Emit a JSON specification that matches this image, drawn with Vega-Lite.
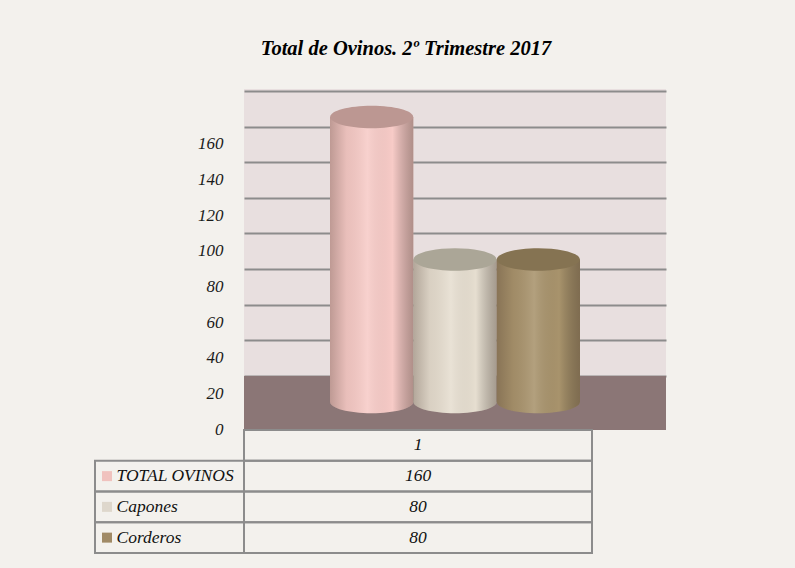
{
  "$schema": "https://vega.github.io/schema/vega-lite/v6.json",
  "background": "#F3F1ED",
  "padding": {"left": 94, "top": 38, "right": 130, "bottom": 16},
  "autosize": {"type": "pad"},
  "title": {
    "text": "Total de Ovinos. 2º Trimestre 2017",
    "font": "Liberation Serif",
    "fontSize": 20.5,
    "fontWeight": "bold",
    "fontStyle": "italic",
    "color": "#000000",
    "anchor": "middle",
    "dx": 26,
    "offset": 30
  },
  "datasets": {
    "ovinos": [
      {"categoria": "1", "serie": "TOTAL OVINOS", "valor": 160},
      {"categoria": "1", "serie": "Capones", "valor": 80},
      {"categoria": "1", "serie": "Corderos", "valor": 80}
    ]
  },
  "data": {"name": "ovinos"},
  "spacing": 0,
  "bounds": "flush",
  "config": {
    "view": {"stroke": null},
    "font": "Liberation Serif",
    "axisY": {
      "title": null, "domain": false, "ticks": false, "tickSize": 0,
      "labelPadding": 21, "labelOffset": 53,
      "grid": true, "gridColor": "#8C8C8C", "gridWidth": 2,
      "labelFont": "Liberation Serif", "labelFontSize": 17, "labelFontStyle": "italic", "labelColor": "#1a1a1a",
      "labelBound": false, "labelFlush": false, "labelOverlap": false
    }
  },
  "hconcat": [
    {
      "width": 149,
      "height": 464,
      "layer": [
        {
          "mark": {"type": "rect", "fill": "transparent", "stroke": "#8C8C8C", "strokeWidth": 2},
          "encoding": {
            "y": {"field": "serie", "type": "nominal", "axis": null, "scale": {"type": "band", "domain": ["1", "TOTAL OVINOS", "Capones", "Corderos"], "paddingInner": 0, "paddingOuter": 0, "range": [341, 464]}}
          }
        },
        {
          "mark": {"type": "square", "size": 100, "opacity": 1, "filled": true, "xOffset": -62.5},
          "encoding": {
            "y": {"field": "serie", "type": "nominal", "axis": null, "scale": {"type": "band", "domain": ["1", "TOTAL OVINOS", "Capones", "Corderos"], "paddingInner": 0, "paddingOuter": 0, "range": [341, 464]}},
            "color": {"field": "serie", "type": "nominal", "legend": null, "scale": {"domain": ["TOTAL OVINOS", "Capones", "Corderos"], "range": ["#F0C2BE", "#DED7CC", "#A08A66"]}}
          }
        },
        {
          "mark": {"type": "text", "align": "left", "dx": -53, "font": "Liberation Serif", "fontSize": 17.5, "fontStyle": "italic", "color": "#111111"},
          "encoding": {
            "y": {"field": "serie", "type": "nominal", "axis": null, "scale": {"type": "band", "domain": ["1", "TOTAL OVINOS", "Capones", "Corderos"], "paddingInner": 0, "paddingOuter": 0, "range": [341, 464]}},
            "text": {"field": "serie"}
          }
        }
      ]
    },
    {
      "spacing": 0,
      "bounds": "flush",
      "vconcat": [
        {
          "width": 422,
          "height": 341,
          "view": {"fill": "#E8DFDF", "stroke": null},
          "resolve": {"scale": {"color": "independent"}},
          "layer": [
            {
              "mark": {"type": "rect", "color": "#8B7676"},
              "encoding": {
                "y": {"datum": 0, "type": "quantitative", "scale": {"domain": [-30.3, 161.1], "nice": false, "zero": false}, "axis": {"values": [0, 20, 40, 60, 80, 100, 120, 140, 160], "title": null}},
                "y2": {"datum": -30.3}
              }
            },
            {
              "mark": {"type": "point", "shape": "M -1 0 A 1 0.27 0 1 0 1 0 A 1 0.27 0 1 0 -1 0 Z", "size": 6900, "filled": true, "opacity": 1, "strokeWidth": 0, "yOffset": 26},
              "encoding": {
                "x": {"field": "categoria", "type": "nominal", "axis": null, "scale": {"paddingInner": 0, "paddingOuter": 0.344}},
                "xOffset": {"field": "serie", "type": "nominal", "sort": ["TOTAL OVINOS", "Capones", "Corderos"], "scale": {"paddingInner": 0, "paddingOuter": 0}},
                "y": {"datum": 0, "type": "quantitative", "scale": {"domain": [-30.3, 161.1], "nice": false, "zero": false}, "axis": {"values": [0, 20, 40, 60, 80, 100, 120, 140, 160], "title": null}},
                "color": {"field": "serie", "type": "nominal", "legend": null, "scale": {"domain": ["TOTAL OVINOS", "Capones", "Corderos"], "range": ["#F7CBC7", "#E6DED0", "#A8936C"]}}
              }
            },
            {
              "mark": {"type": "point", "shape": "M -1 0 A 1 0.27 0 1 0 1 0 A 1 0.27 0 1 0 -1 0 Z", "size": 6900, "filled": true, "opacity": 1, "strokeWidth": 0, "yOffset": 26,
                "color": {"gradient": "linear", "x1": 0, "y1": 0, "x2": 1, "y2": 0, "stops": [
                  {"offset": 0, "color": "rgba(70,50,40,0.32)"},
                  {"offset": 0.2, "color": "rgba(70,50,40,0.08)"},
                  {"offset": 0.45, "color": "rgba(255,255,255,0.12)"},
                  {"offset": 0.75, "color": "rgba(0,0,0,0.0)"},
                  {"offset": 1, "color": "rgba(60,45,35,0.38)"}
                ]}},
              "encoding": {
                "x": {"field": "categoria", "type": "nominal", "axis": null, "scale": {"paddingInner": 0, "paddingOuter": 0.344}},
                "xOffset": {"field": "serie", "type": "nominal", "sort": ["TOTAL OVINOS", "Capones", "Corderos"], "scale": {"paddingInner": 0, "paddingOuter": 0}},
                "y": {"datum": 0, "type": "quantitative", "scale": {"domain": [-30.3, 161.1], "nice": false, "zero": false}, "axis": {"values": [0, 20, 40, 60, 80, 100, 120, 140, 160], "title": null}}
              }
            },
            {
              "mark": {"type": "bar", "yOffset": 26, "y2Offset": 26},
              "encoding": {
                "x": {"field": "categoria", "type": "nominal", "axis": null, "scale": {"paddingInner": 0, "paddingOuter": 0.344}},
                "xOffset": {"field": "serie", "type": "nominal", "sort": ["TOTAL OVINOS", "Capones", "Corderos"], "scale": {"paddingInner": 0, "paddingOuter": 0}},
                "y": {"field": "valor", "type": "quantitative", "scale": {"domain": [-30.3, 161.1], "nice": false, "zero": false}, "axis": {"values": [0, 20, 40, 60, 80, 100, 120, 140, 160], "title": null}},
                "y2": {"datum": 0},
                "color": {"field": "serie", "type": "nominal", "legend": null, "scale": {"domain": ["TOTAL OVINOS", "Capones", "Corderos"], "range": ["#F7CBC7", "#E6DED0", "#A8936C"]}}
              }
            },
            {
              "mark": {"type": "bar", "yOffset": 26, "y2Offset": 26,
                "color": {"gradient": "linear", "x1": 0, "y1": 0, "x2": 1, "y2": 0, "stops": [
                  {"offset": 0, "color": "rgba(70,50,40,0.32)"},
                  {"offset": 0.2, "color": "rgba(70,50,40,0.08)"},
                  {"offset": 0.45, "color": "rgba(255,255,255,0.12)"},
                  {"offset": 0.75, "color": "rgba(0,0,0,0.0)"},
                  {"offset": 1, "color": "rgba(60,45,35,0.38)"}
                ]}},
              "encoding": {
                "x": {"field": "categoria", "type": "nominal", "axis": null, "scale": {"paddingInner": 0, "paddingOuter": 0.344}},
                "xOffset": {"field": "serie", "type": "nominal", "sort": ["TOTAL OVINOS", "Capones", "Corderos"], "scale": {"paddingInner": 0, "paddingOuter": 0}},
                "y": {"field": "valor", "type": "quantitative", "scale": {"domain": [-30.3, 161.1], "nice": false, "zero": false}, "axis": {"values": [0, 20, 40, 60, 80, 100, 120, 140, 160], "title": null}},
                "y2": {"datum": 0}
              }
            },
            {
              "mark": {"type": "point", "shape": "M -1 0 A 1 0.27 0 1 0 1 0 A 1 0.27 0 1 0 -1 0 Z", "size": 6900, "filled": true, "opacity": 1, "strokeWidth": 0, "yOffset": 26},
              "encoding": {
                "x": {"field": "categoria", "type": "nominal", "axis": null, "scale": {"paddingInner": 0, "paddingOuter": 0.344}},
                "xOffset": {"field": "serie", "type": "nominal", "sort": ["TOTAL OVINOS", "Capones", "Corderos"], "scale": {"paddingInner": 0, "paddingOuter": 0}},
                "y": {"field": "valor", "type": "quantitative", "scale": {"domain": [-30.3, 161.1], "nice": false, "zero": false}, "axis": {"values": [0, 20, 40, 60, 80, 100, 120, 140, 160], "title": null}},
                "color": {"field": "serie", "type": "nominal", "legend": null, "scale": {"domain": ["TOTAL OVINOS", "Capones", "Corderos"], "range": ["#BC9792", "#ABA697", "#857352"]}}
              }
            }
          ]
        },
        {
          "width": 348,
          "height": 123,
          "layer": [
            {
              "mark": {"type": "rect", "fill": "transparent", "stroke": "#8C8C8C", "strokeWidth": 2},
              "encoding": {
                "y": {"field": "serie", "type": "nominal", "axis": null, "scale": {"type": "band", "domain": ["1", "TOTAL OVINOS", "Capones", "Corderos"], "paddingInner": 0, "paddingOuter": 0}}
              }
            },
            {
              "transform": [{"aggregate": [{"op": "count", "as": "n"}], "groupby": ["categoria"]}],
              "mark": {"type": "rect", "fill": "transparent", "stroke": "#8C8C8C", "strokeWidth": 2},
              "encoding": {
                "y": {"field": "categoria", "type": "nominal", "axis": null, "scale": {"type": "band", "domain": ["1", "TOTAL OVINOS", "Capones", "Corderos"], "paddingInner": 0, "paddingOuter": 0}}
              }
            },
            {
              "mark": {"type": "text", "align": "center", "font": "Liberation Serif", "fontSize": 17.5, "fontStyle": "italic", "color": "#111111"},
              "encoding": {
                "y": {"field": "serie", "type": "nominal", "axis": null, "scale": {"type": "band", "domain": ["1", "TOTAL OVINOS", "Capones", "Corderos"], "paddingInner": 0, "paddingOuter": 0}},
                "text": {"field": "valor"}
              }
            },
            {
              "transform": [{"aggregate": [{"op": "count", "as": "n"}], "groupby": ["categoria"]}],
              "mark": {"type": "text", "align": "center", "font": "Liberation Serif", "fontSize": 17.5, "fontStyle": "italic", "color": "#111111"},
              "encoding": {
                "y": {"field": "categoria", "type": "nominal", "axis": null, "scale": {"type": "band", "domain": ["1", "TOTAL OVINOS", "Capones", "Corderos"], "paddingInner": 0, "paddingOuter": 0}},
                "text": {"field": "categoria"}
              }
            }
          ]
        }
      ]
    }
  ]
}
